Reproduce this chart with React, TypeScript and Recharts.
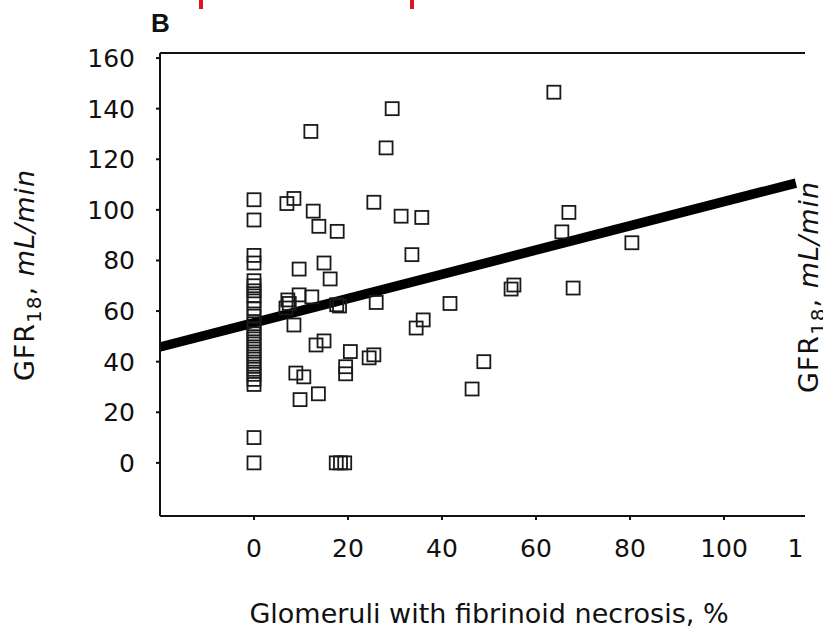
import React from 'react';
import { ScatterChart, Scatter, XAxis, YAxis, ReferenceLine } from 'recharts';

const FONT = '"DejaVu Sans", sans-serif';
const INK = '#111';

// Glomeruli with fibrinoid necrosis, %
const necrosisPct = [
  0, 0, 0, 0,
  0, 0, 0, 0, 0, 0, 0, 0, 0, 0, 0, 0, 0, 0, 0, 0, 0, 0, 0, 0,
  0, 0,
  7, 8.5, 12.6, 13.8, 17.7, 25.5, 31.3, 35.7, 33.6,
  29.4, 12.1, 28.1, 63.8, 67, 65.5, 80.4,
  9.6, 14.9, 16.2, 7.2, 9.6, 12.3, 6.8, 7.5, 8.5,
  17.6, 18.2, 26, 41.7, 36, 34.5,
  13.2, 14.9, 20.5, 24.5, 25.5, 19.5, 19.5,
  8.9, 10.6, 9.8, 13.7, 48.9, 46.4,
  55.3, 54.7, 67.9,
  17.5, 18.4, 19.3,
];

// GFR18, mL/min
const gfr18 = [
  104, 96, 82, 79,
  72, 70, 68, 66, 64, 61, 58, 55, 53, 51, 49, 47, 45, 43, 41, 39, 37, 35, 33, 31,
  10, 0,
  102.5, 104.5, 99.5, 93.5, 91.5, 103, 97.5, 97, 82.3,
  140, 131, 124.5, 146.5, 99, 91.3, 87,
  76.6, 79, 72.7, 64.4, 66.4, 65.6, 61.2, 63, 54.5,
  62.5, 62, 63.4, 63, 56.5, 53.3,
  46.6, 48.2, 44, 41.5, 42.7, 38, 35.2,
  35.5, 34, 25, 27.3, 40, 29.2,
  70.3, 68.7, 69.1,
  0, 0, 0,
];

const xTicks = [0, 20, 40, 60, 80, 100, 120];
const yTicks = [0, 20, 40, 60, 80, 100, 120, 140, 160];
const xDomain = [-20, 120];
const yDomain = [-21, 162];

// regression line end points
const fitX = [-20, 115.3];
const fitY = [45.8, 110.6];

const data = necrosisPct.map((x, i) => ({ x, y: gfr18[i] }));

const SquareMark = (props: any) => {
  const { cx, cy } = props;
  if (cx == null || cy == null) return null;
  return (
    <rect x={cx - 6.5} y={cy - 6.5} width={13} height={13} fill="none" stroke="#1a1a1a" strokeWidth={1.8} />
  );
};

const GfrLabel = ({ cx, cy }: { cx: number; cy: number }) => (
  <text
    transform={`translate(${cx},${cy}) rotate(-90)`}
    textAnchor="middle"
    fontFamily={FONT}
    fontSize={27}
    letterSpacing={1}
    fill={INK}
  >
    <tspan>GFR</tspan>
    <tspan dy={7} fontSize={20}>18</tspan>
    <tspan dy={-7}>, </tspan>
    <tspan fontStyle="italic">mL/min</tspan>
  </text>
);

export default function App() {
  return (
    <div style={{ position: 'fixed', left: 0, top: 0, width: 823, height: 631, overflow: 'hidden', background: '#fff' }}>
      <div style={{ position: 'absolute', left: 0, top: 0, width: 805, height: 631, overflow: 'hidden' }}>
        <ScatterChart width={830} height={631} margin={{ top: 53, right: 12, bottom: 0, left: 0 }}>
          <XAxis
            type="number"
            dataKey="x"
            domain={xDomain}
            ticks={xTicks}
            allowDataOverflow
            height={115}
            tickSize={4}
            tickMargin={19}
            axisLine={{ stroke: INK, strokeWidth: 2 }}
            tickLine={{ stroke: INK, strokeWidth: 2 }}
            tick={{ fill: INK, fontSize: 25, fontFamily: FONT }}
            label={{
              value: 'Glomeruli with fibrinoid necrosis, %',
              position: 'insideBottom',
              offset: 8,
              style: { fill: INK, fontSize: 27, fontFamily: FONT },
            }}
          />
          <YAxis
            type="number"
            dataKey="y"
            domain={yDomain}
            ticks={yTicks}
            allowDataOverflow
            width={160}
            tickSize={4}
            tickMargin={21}
            axisLine={{ stroke: INK, strokeWidth: 2 }}
            tickLine={{ stroke: INK, strokeWidth: 2 }}
            tick={{ fill: INK, fontSize: 25, fontFamily: FONT }}
            label={{ content: () => <GfrLabel cx={34} cy={275} /> }}
          />
          <ReferenceLine y={yDomain[1]} stroke={INK} strokeWidth={2} />
          <Scatter data={data} shape={SquareMark} isAnimationActive={false} />
          <ReferenceLine
            segment={[{ x: fitX[0], y: fitY[0] }, { x: fitX[1], y: fitY[1] }]}
            stroke="#000"
            strokeWidth={9.5}
          />
        </ScatterChart>
      </div>
      <svg width={823} height={631} style={{ position: 'absolute', left: 0, top: 0, pointerEvents: 'none' }}>
        <rect x={199} y={0} width={4} height={9} fill="#e0141e" />
        <rect x={410} y={0} width={4} height={9} fill="#e0141e" />
        <text x={151} y={32} fontFamily='"Liberation Sans", Arial, sans-serif' fontWeight="bold" fontSize={26} fill={INK}>B</text>
        <GfrLabel cx={818} cy={287} />
      </svg>
    </div>
  );
}
